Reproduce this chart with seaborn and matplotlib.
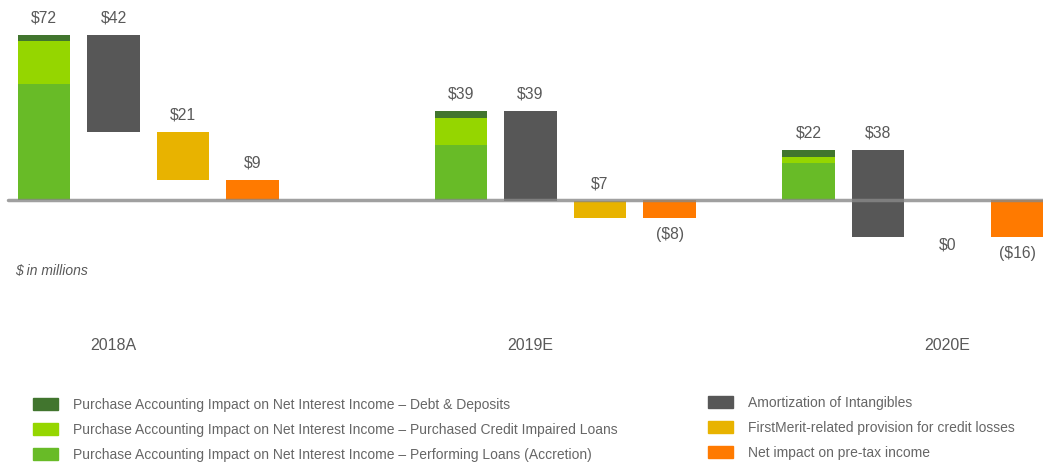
import matplotlib.pyplot as plt
import seaborn as sns
from matplotlib.patches import Patch

# values in $ millions
years = ["2018A", "2019E", "2020E"]
debt_deposits = [2.7, 3.0, 3.0]
pci_loans = [18.8, 11.8, 2.6]
performing_loans = [50.5, 24.1, 16.2]
amortization = [42.3, 39.4, 37.8]
provision = [21.0, 7.4, 0.0]

series_names = [
    "Purchase Accounting Impact on Net Interest Income \u2013 Debt & Deposits",
    "Purchase Accounting Impact on Net Interest Income \u2013 Purchased Credit Impaired Loans",
    "Purchase Accounting Impact on Net Interest Income \u2013 Performing Loans (Accretion)",
    "Amortization of Intangibles",
    "FirstMerit-related provision for credit losses",
    "Net impact on pre-tax income",
]
colors = ["#41752e", "#95d600", "#68bb27", "#575757", "#e8b300", "#ff7a00"]
text_color = "#595959"

sns.set_theme(style="white")
plt.rcParams["font.family"] = ["Liberation Sans", "DejaVu Sans"]

# pixel layout of the reference: slot spacing 69.5px, first slot centre at 44px,
# zero line at 200px, 2.29px per $1m
fig = plt.figure(figsize=(10.43, 4.62), dpi=100)
ax = fig.add_axes([0, 0, 1, 1])
ax.set_xlim((0 - 44) / 69.5, (1043 - 44) / 69.5)
ax.set_ylim((200 - 462) / 2.29, 200 / 2.29)
ax.axis("off")

group_start = [0, 6, 11]
width = 0.75


def fmt(v):
    v = round(v)
    return f"${v}" if v >= 0 else f"(${-v})"


def put_label(x, v, y, above, off=12):
    ax.annotate(fmt(v), (x, y), xytext=(0, off if above else -off), textcoords="offset points",
                ha="center", va="center", fontsize=11.3, color=text_color)


for i, year in enumerate(years):
    s = group_start[i]
    total = performing_loans[i] + pci_loans[i] + debt_deposits[i]
    # stacked purchase accounting bar
    ax.bar(s, performing_loans[i], width, color=colors[2], linewidth=0)
    ax.bar(s, pci_loans[i], width, bottom=performing_loans[i], color=colors[1], linewidth=0)
    ax.bar(s, debt_deposits[i], width, bottom=performing_loans[i] + pci_loans[i], color=colors[0], linewidth=0)
    put_label(s, total, total, True)

    # amortization hangs down from the total
    ax.bar(s + 1, -amortization[i], width, bottom=total, color=colors[3], linewidth=0)
    put_label(s + 1, amortization[i], total, True)

    # provision continues the waterfall
    level = total - amortization[i]
    ax.bar(s + 2, -provision[i], width, bottom=level, color=colors[4], linewidth=0)
    if provision[i] > 0:
        put_label(s + 2, provision[i], level, True)
    else:
        put_label(s + 2, provision[i], level, False, off=6)

    net = level - provision[i]
    ax.bar(s + 3, net, width, color=colors[5], linewidth=0)
    put_label(s + 3, net, net, net > 0)

    # year captions sit on an even grid
    ax.text(1 + 6 * i, (200 - 345) / 2.29, year, ha="center", va="center", fontsize=11.5, color=text_color)

ax.axhline(0, xmin=8 / 1043, xmax=1, color="#888888", lw=2.5, alpha=0.8, zorder=3)

ax.text((15 - 44) / 69.5, (200 - 271) / 2.29, "$ in millions", ha="left", va="center",
        fontsize=10, style="italic", color=text_color)

leg_kw = dict(loc="upper left", frameon=False, fontsize=10, handlelength=1.8, handleheight=0.95,
              handletextpad=1.1, labelspacing=0.78, borderpad=0, borderaxespad=0, labelcolor="#666666")
fig.legend(handles=[Patch(color=c, label=n) for c, n in zip(colors[:3], series_names[:3])],
           bbox_to_anchor=(33 / 1043, 1 - 398 / 462), **leg_kw)
fig.legend(handles=[Patch(color=c, label=n) for c, n in zip(colors[3:], series_names[3:])],
           bbox_to_anchor=(708 / 1043, 1 - 396 / 462), **leg_kw)

fig.savefig("out.png", dpi=100)
